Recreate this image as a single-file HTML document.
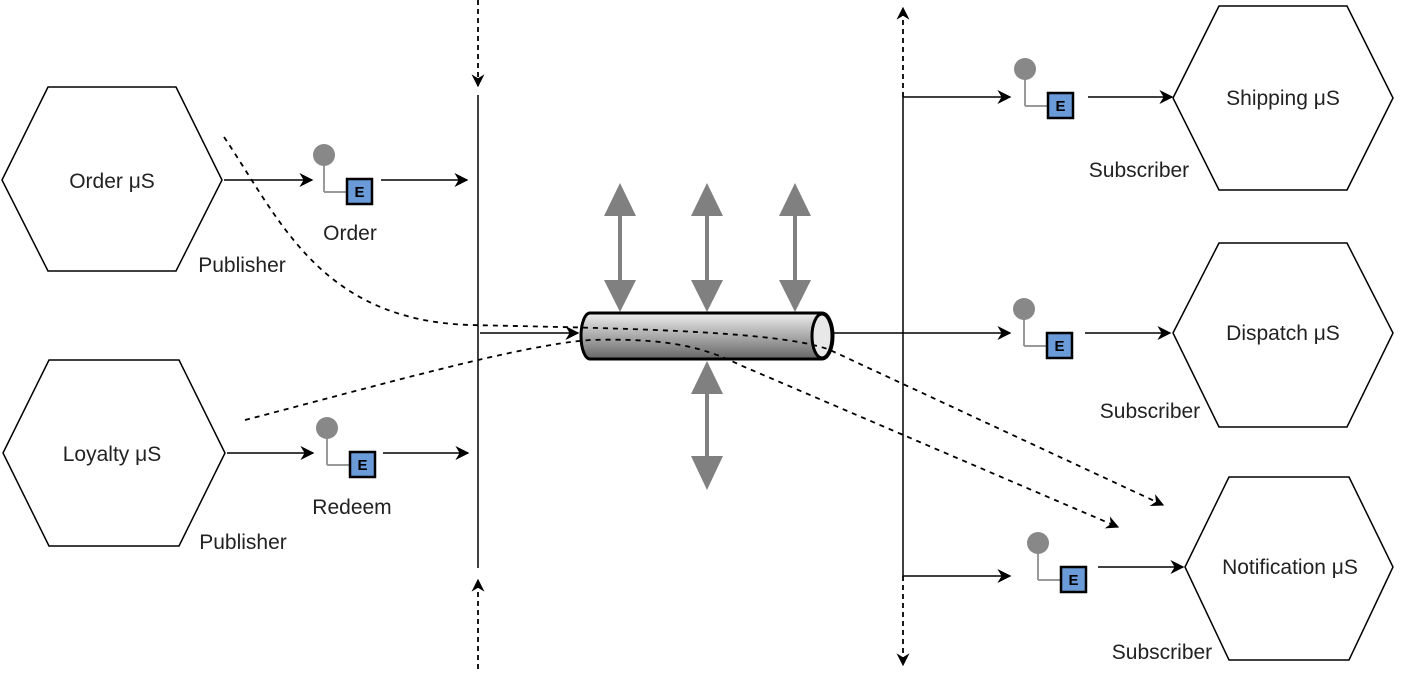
<!DOCTYPE html>
<html><head><meta charset="utf-8"><style>
body{margin:0;background:#fff;width:1406px;height:669px;overflow:hidden}
text{font-family:"Liberation Sans",sans-serif;font-size:21px;fill:#222}
text.e{font-size:15px;font-weight:bold;fill:#000}
</style></head><body>
<svg width="1406" height="669" viewBox="0 0 1406 669">
<defs>
<marker id="ah" viewBox="0 0 10 10" refX="9" refY="5" markerWidth="13" markerHeight="13" markerUnits="userSpaceOnUse" orient="auto"><path d="M0,0 L10,5 L0,10 L3,5z" fill="#000"/></marker>
<marker id="ah2" viewBox="0 0 10 10" refX="9" refY="5" markerWidth="14" markerHeight="14" markerUnits="userSpaceOnUse" orient="auto"><path d="M0,0 L10,5 L0,10 L3,5z" fill="#000"/></marker>
<linearGradient id="cyl" x1="0" y1="0" x2="0" y2="1"><stop offset="0" stop-color="#eee"/><stop offset="0.5" stop-color="#aaa"/><stop offset="1" stop-color="#666"/></linearGradient>
</defs>
<g fill="#fff" stroke="#000" stroke-width="1.5">
<polygon points="2,180 48,87 176,87 222,180 176,271 48,271"/>
<polygon points="3,453 49,360 179,360 225,453 179,546 49,546"/>
<polygon points="1173,98 1219,6 1347,6 1393,98 1347,190 1219,190"/>
<polygon points="1173,333 1219,243 1347,243 1393,333 1347,427 1219,427"/>
<polygon points="1185,567 1229,477 1349,477 1393,567 1349,660 1229,660"/>
</g>
<text x="112" y="188" text-anchor="middle">Order μS</text>
<text x="112" y="461" text-anchor="middle">Loyalty μS</text>
<text x="1283" y="105" text-anchor="middle">Shipping μS</text>
<text x="1283" y="340" text-anchor="middle">Dispatch μS</text>
<text x="1290" y="574" text-anchor="middle">Notification μS</text>
<text x="242" y="272" text-anchor="middle">Publisher</text>
<text x="243" y="549" text-anchor="middle">Publisher</text>
<text x="1139" y="177" text-anchor="middle">Subscriber</text>
<text x="1150" y="418" text-anchor="middle">Subscriber</text>
<text x="1162" y="659" text-anchor="middle">Subscriber</text>
<text x="350" y="240" text-anchor="middle">Order</text>
<text x="352" y="514" text-anchor="middle">Redeem</text>
<g stroke="#000" stroke-width="1.5" fill="none">
<line x1="478" y1="95" x2="478" y2="568"/>
<line x1="903" y1="97" x2="903" y2="576"/>
<line x1="224" y1="180" x2="312" y2="180" marker-end="url(#ah2)"/>
<line x1="381" y1="180" x2="467" y2="180" marker-end="url(#ah2)"/>
<line x1="227" y1="453" x2="313" y2="453" marker-end="url(#ah2)"/>
<line x1="383" y1="453" x2="468" y2="453" marker-end="url(#ah2)"/>
<line x1="480" y1="333" x2="578" y2="333" marker-end="url(#ah2)"/>
<line x1="833" y1="333" x2="1010" y2="333" marker-end="url(#ah2)"/>
<line x1="903" y1="97" x2="1010" y2="97" marker-end="url(#ah2)"/>
<line x1="903" y1="576" x2="1010" y2="576" marker-end="url(#ah2)"/>
<line x1="1088" y1="97" x2="1172" y2="97" marker-end="url(#ah2)"/>
<line x1="1085" y1="333" x2="1170" y2="333" marker-end="url(#ah2)"/>
<line x1="1098" y1="567" x2="1183" y2="567" marker-end="url(#ah2)"/>
</g>
<g stroke="#000" stroke-width="1.8" fill="none" stroke-dasharray="5,4">
<line x1="478" y1="0" x2="478" y2="86" marker-end="url(#ah)"/>
<line x1="478" y1="669" x2="478" y2="580" marker-end="url(#ah)"/>
<line x1="903" y1="97" x2="903" y2="8" marker-end="url(#ah)"/>
<line x1="903" y1="576" x2="903" y2="665" marker-end="url(#ah)"/>
</g>
<g stroke="#808080" stroke-width="4" fill="none">
<line x1="620" y1="212" x2="620" y2="285"/><line x1="707" y1="212" x2="707" y2="285"/><line x1="795" y1="212" x2="795" y2="285"/><line x1="707" y1="388" x2="707" y2="462"/>
</g>
<g fill="#808080">
<path d="M604,216 L620,183 L636,216z"/><path d="M604,280 L620,312 L636,280z"/>
<path d="M691,216 L707,183 L723,216z"/><path d="M691,280 L707,312 L723,280z"/>
<path d="M779,216 L795,183 L811,216z"/><path d="M779,280 L795,312 L811,280z"/>
<path d="M691,394 L707,361 L723,394z"/><path d="M691,456 L707,490 L723,456z"/>
</g>
<g>
<path d="M590,313 L822,313 A11,23 0 0 1 822,359 L590,359 A9,23 0 0 1 590,313z" fill="url(#cyl)" stroke="#000" stroke-width="3"/>
<ellipse cx="822" cy="336" rx="10" ry="22" fill="#e8e8e8" stroke="#000" stroke-width="3"/>
</g>
<g stroke="#000" stroke-width="1.8" fill="none" stroke-dasharray="5,5">
<path d="M224,137 C280,220 320,320 470,325 C600,328 780,330 830,350 L1163,505" marker-end="url(#ah)"/>
<path d="M245,420 C380,385 520,345 590,340 C660,338 700,345 740,365 L1118,527" marker-end="url(#ah)"/>
</g>
<g>
<g transform="translate(0,0)"><line x1="324" y1="160" x2="324" y2="192" stroke="#999" stroke-width="2"/><line x1="324" y1="192" x2="347" y2="192" stroke="#999" stroke-width="2"/><circle cx="324" cy="155" r="11" fill="#888"/><rect x="347" y="179" width="25" height="25" fill="#6a9ad8" stroke="#000" stroke-width="2.5"/><text class="e" x="359.5" y="197" text-anchor="middle">E</text></g>
<g transform="translate(3,273)"><line x1="324" y1="160" x2="324" y2="192" stroke="#999" stroke-width="2"/><line x1="324" y1="192" x2="347" y2="192" stroke="#999" stroke-width="2"/><circle cx="324" cy="155" r="11" fill="#888"/><rect x="347" y="179" width="25" height="25" fill="#6a9ad8" stroke="#000" stroke-width="2.5"/><text class="e" x="359.5" y="197" text-anchor="middle">E</text></g>
<g transform="translate(701,-86)"><line x1="324" y1="160" x2="324" y2="192" stroke="#999" stroke-width="2"/><line x1="324" y1="192" x2="347" y2="192" stroke="#999" stroke-width="2"/><circle cx="324" cy="155" r="11" fill="#888"/><rect x="347" y="179" width="25" height="25" fill="#6a9ad8" stroke="#000" stroke-width="2.5"/><text class="e" x="359.5" y="197" text-anchor="middle">E</text></g>
<g transform="translate(700,154)"><line x1="324" y1="160" x2="324" y2="192" stroke="#999" stroke-width="2"/><line x1="324" y1="192" x2="347" y2="192" stroke="#999" stroke-width="2"/><circle cx="324" cy="155" r="11" fill="#888"/><rect x="347" y="179" width="25" height="25" fill="#6a9ad8" stroke="#000" stroke-width="2.5"/><text class="e" x="359.5" y="197" text-anchor="middle">E</text></g>
<g transform="translate(714,388)"><line x1="324" y1="160" x2="324" y2="192" stroke="#999" stroke-width="2"/><line x1="324" y1="192" x2="347" y2="192" stroke="#999" stroke-width="2"/><circle cx="324" cy="155" r="11" fill="#888"/><rect x="347" y="179" width="25" height="25" fill="#6a9ad8" stroke="#000" stroke-width="2.5"/><text class="e" x="359.5" y="197" text-anchor="middle">E</text></g>
</g>
</svg>
</body></html>
